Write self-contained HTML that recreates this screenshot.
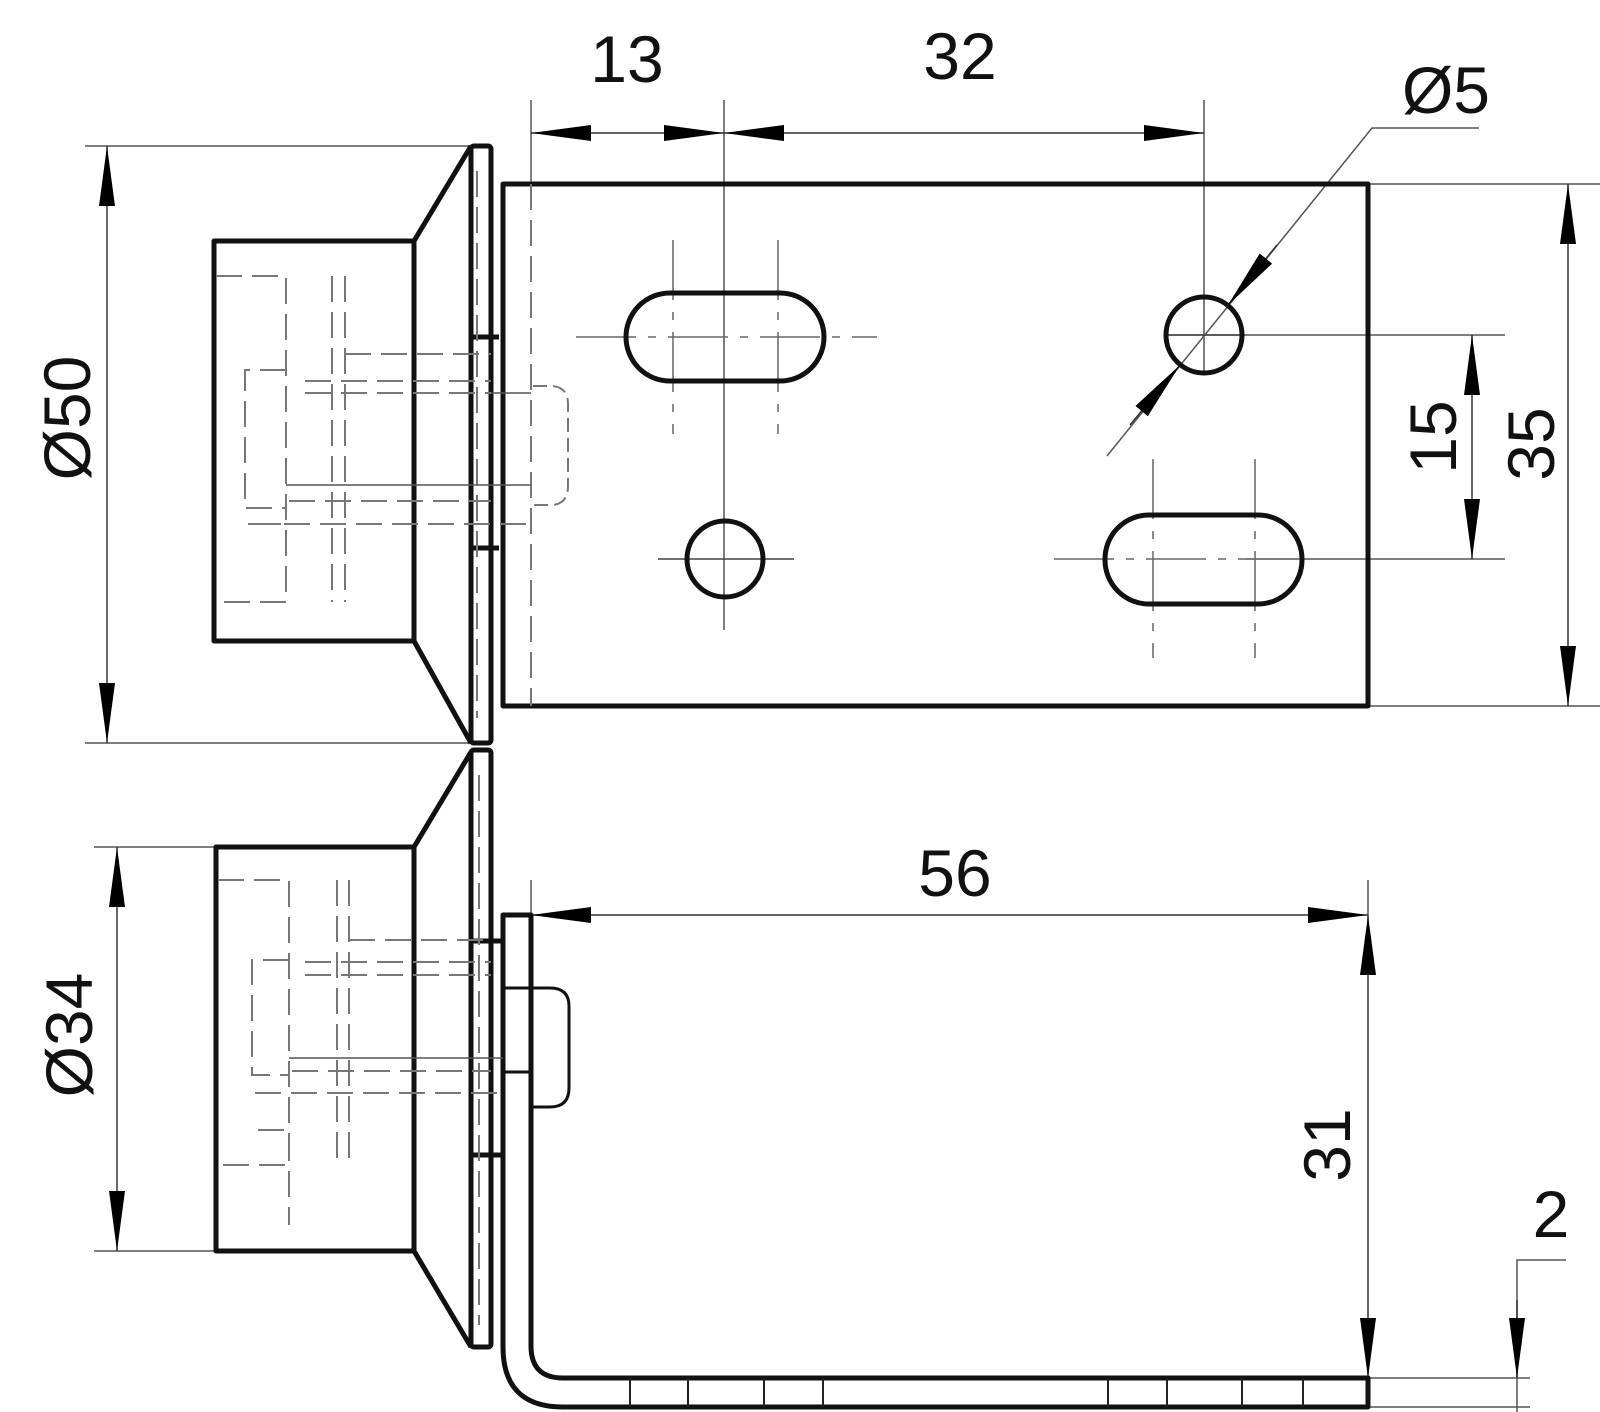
<!DOCTYPE html>
<html><head><meta charset="utf-8"><style>
html,body{margin:0;padding:0;background:#fff}
svg{display:block}
text{font-family:"Liberation Sans",sans-serif;fill:#111}
</style></head><body>
<svg width="1600" height="1412" viewBox="0 0 1600 1412" xmlns="http://www.w3.org/2000/svg">
<defs>
<marker id="a" markerUnits="userSpaceOnUse" markerWidth="60" markerHeight="20" refX="60" refY="10" orient="auto-start-reverse">
<path d="M0,2 L60,10 L0,18 Z" fill="#000"/>
</marker>
</defs>
<rect width="1600" height="1412" fill="#fff"/>

<!-- ===== TOP VIEW ===== -->
<g fill="none" stroke="#555" stroke-width="1.5">
<line x1="85" y1="146" x2="471" y2="146"/>
<line x1="85" y1="743" x2="471" y2="743"/>
<line x1="531" y1="100" x2="531" y2="184"/>
<line x1="724" y1="100" x2="724" y2="630"/>
<line x1="1204" y1="100" x2="1204" y2="372"/>
<line x1="1368" y1="184" x2="1600" y2="184"/>
<line x1="1368" y1="706" x2="1600" y2="706"/>
<line x1="1165" y1="335" x2="1505" y2="335"/>
<line x1="1245" y1="559" x2="1505" y2="559"/>
<polyline points="1479,128 1372,128 1107,456"/>
</g>
<g stroke="#333" stroke-width="1.5" fill="none">
<line x1="107" y1="146" x2="107" y2="743" marker-start="url(#a)" marker-end="url(#a)"/>
<line x1="531" y1="133" x2="724" y2="133" marker-start="url(#a)" marker-end="url(#a)"/>
<line x1="724" y1="133" x2="1204" y2="133" marker-start="url(#a)" marker-end="url(#a)"/>
<line x1="1472" y1="335" x2="1472" y2="559" marker-start="url(#a)" marker-end="url(#a)"/>
<line x1="1568" y1="184" x2="1568" y2="706" marker-start="url(#a)" marker-end="url(#a)"/>
<line x1="1277" y1="245" x2="1228" y2="305" marker-end="url(#a)"/>
<line x1="1130" y1="425" x2="1180" y2="365" marker-end="url(#a)"/>
</g>
<g stroke="#666" stroke-width="1.5" fill="none" stroke-dasharray="60,12,8,12">
<line x1="576" y1="337" x2="877" y2="337"/>
<line x1="673" y1="240" x2="673" y2="434"/>
<line x1="778" y1="240" x2="778" y2="434"/>
<line x1="1054" y1="559" x2="1245" y2="559"/>
<line x1="1153" y1="459" x2="1153" y2="658"/>
<line x1="1255" y1="459" x2="1255" y2="658"/>
</g>
<g stroke="#444" stroke-width="1.5">
<line x1="658" y1="559" x2="794" y2="559"/>
<line x1="1165" y1="335" x2="1245" y2="335"/>
</g>
<g fill="none" stroke="#111" stroke-width="5" stroke-linejoin="round">
<rect x="503" y="184" width="865" height="522"/>
<rect x="214" y="241" width="200" height="400"/>
<polyline points="471,146 414,241 414,641 471,743"/>
<rect x="471" y="146" width="20" height="597" rx="3"/>
<rect x="626" y="293" width="198" height="88" rx="44"/>
<rect x="1105" y="515" width="197" height="89" rx="44"/>
<circle cx="1204" cy="335" r="38"/>
<circle cx="725" cy="559" r="38"/>
<line x1="471" y1="337" x2="499" y2="337"/>
<line x1="471" y1="548" x2="499" y2="548"/>
</g>
<g fill="none" stroke="#777" stroke-width="2" stroke-dasharray="26,10">
<path d="M216,276 H286 V602 H216"/>
<path d="M286,370 H245 V508 H286"/>
<path d="M255,524 H286"/>
<line x1="332" y1="276" x2="332" y2="602"/>
<line x1="345" y1="276" x2="345" y2="602"/>
<line x1="345" y1="354" x2="491" y2="354"/>
<line x1="305" y1="381" x2="491" y2="381"/>
<line x1="305" y1="393" x2="491" y2="393"/>
<line x1="289" y1="501" x2="491" y2="501"/>
<line x1="248" y1="524" x2="529" y2="524"/>
<line x1="477" y1="171" x2="477" y2="718"/>
<line x1="531" y1="184" x2="531" y2="706"/>
<path d="M533,386 H550 Q568,386 568,404 V486 Q568,505 550,505 H533" stroke-dasharray="14,6"/>
</g>
<g stroke="#555" stroke-width="1.5">
<line x1="286" y1="485" x2="531" y2="485"/>
<line x1="491" y1="393" x2="531" y2="393"/>
</g>

<!-- ===== BOTTOM VIEW ===== -->
<g fill="none" stroke="#555" stroke-width="1.5">
<line x1="94" y1="847" x2="216" y2="847"/>
<line x1="94" y1="1251" x2="216" y2="1251"/>
<line x1="531" y1="880" x2="531" y2="930"/>
<line x1="1368" y1="880" x2="1368" y2="915"/>
<line x1="1368" y1="1378" x2="1530" y2="1378"/>
<line x1="1368" y1="1407" x2="1530" y2="1407"/>
<polyline points="1566,1260 1517,1260 1517,1412"/>
</g>
<g stroke="#333" stroke-width="1.5" fill="none">
<line x1="117" y1="847" x2="117" y2="1251" marker-start="url(#a)" marker-end="url(#a)"/>
<line x1="531" y1="915" x2="1368" y2="915" marker-start="url(#a)" marker-end="url(#a)"/>
<line x1="1368" y1="915" x2="1368" y2="1378" marker-start="url(#a)" marker-end="url(#a)"/>
<line x1="1517" y1="1300" x2="1517" y2="1378" marker-end="url(#a)"/>
</g>
<g fill="none" stroke="#111" stroke-width="5" stroke-linejoin="round">
<rect x="216" y="847" width="198" height="404"/>
<polyline points="471,752 414,847 414,1251 471,1347"/>
<rect x="471" y="750" width="20" height="597" rx="3"/>
<path d="M531,915 H503 V1347 Q503,1407 563,1407 H1368 V1378 H563 Q531,1378 531,1346 Z"/>
<line x1="471" y1="941" x2="503" y2="941"/>
<line x1="471" y1="1155" x2="503" y2="1155"/>
</g>
<g stroke="#222" stroke-width="2">
<line x1="630" y1="1378" x2="630" y2="1407"/>
<line x1="688" y1="1378" x2="688" y2="1407"/>
<line x1="764" y1="1378" x2="764" y2="1407"/>
<line x1="823" y1="1378" x2="823" y2="1407"/>
<line x1="1108" y1="1378" x2="1108" y2="1407"/>
<line x1="1167" y1="1378" x2="1167" y2="1407"/>
<line x1="1242" y1="1378" x2="1242" y2="1407"/>
<line x1="1303" y1="1378" x2="1303" y2="1407"/>
</g>
<g fill="none" stroke="#111" stroke-width="3">
<path d="M531,988 H550 Q569,988 569,1006 V1088 Q569,1107 550,1107 H531"/>
<line x1="503" y1="1072" x2="531" y2="1072"/>
<line x1="503" y1="988" x2="531" y2="988"/>
</g>
<g fill="none" stroke="#777" stroke-width="2" stroke-dasharray="26,10">
<path d="M218,880 H289 V1165 H218"/>
<path d="M289,960 H252 V1075 H289"/>
<path d="M258,1130 H289 V1225"/>
<line x1="337" y1="880" x2="337" y2="1165"/>
<line x1="349" y1="880" x2="349" y2="1165"/>
<line x1="349" y1="940" x2="491" y2="940"/>
<line x1="305" y1="962" x2="491" y2="962"/>
<line x1="305" y1="975" x2="491" y2="975"/>
<line x1="292" y1="1071" x2="491" y2="1071"/>
<line x1="255" y1="1093" x2="503" y2="1093"/>
<line x1="479" y1="775" x2="479" y2="1325"/>
</g>
<g stroke="#555" stroke-width="1.5">
<line x1="289" y1="1058" x2="503" y2="1058"/>
</g>

<g font-size="66">
<text x="627" y="82" text-anchor="middle">13</text>
<text x="960" y="79" text-anchor="middle">32</text>
<text x="1446" y="113" text-anchor="middle">Ø5</text>
<text x="955" y="896" text-anchor="middle">56</text>
<text x="1551" y="1237" text-anchor="middle">2</text>
<text transform="translate(90,418) rotate(-90)" text-anchor="middle">Ø50</text>
<text transform="translate(92,1035) rotate(-90)" text-anchor="middle">Ø34</text>
<text transform="translate(1456,437) rotate(-90)" text-anchor="middle">15</text>
<text transform="translate(1554,444) rotate(-90)" text-anchor="middle">35</text>
<text transform="translate(1350,1145) rotate(-90)" text-anchor="middle">31</text>
</g>
</svg>
</body></html>
